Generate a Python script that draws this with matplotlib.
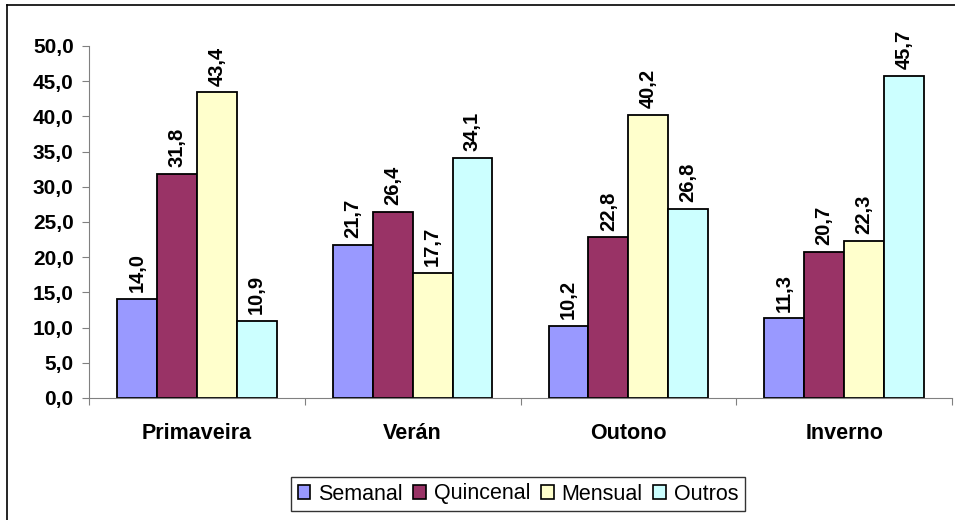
import matplotlib.pyplot as plt
from matplotlib.lines import Line2D
from matplotlib.patches import Patch
import numpy as np

plt.rcParams['font.family'] = ['Liberation Sans', 'DejaVu Sans']

categories = ["Primaveira", "Verán", "Outono", "Inverno"]
series = ["Semanal", "Quincenal", "Mensual", "Outros"]
semanal = [14.0, 21.7, 10.2, 11.3]
quincenal = [31.8, 26.4, 22.8, 20.7]
mensual = [43.4, 17.7, 40.2, 22.3]
outros = [10.9, 34.1, 26.8, 45.7]
colors = ["#9999FF", "#993366", "#FFFFCC", "#CCFFFF"]

values = [semanal, quincenal, mensual, outros]

fig = plt.figure(figsize=(9.55, 5.2), dpi=100)
ax = fig.add_axes([89 / 955, 1 - 398 / 520, 863 / 955, (398 - 46) / 520])

x = np.arange(len(categories))
w = 0.185
for j, (name, vals, c) in enumerate(zip(series, values, colors)):
    pos = x + (j - 1.5) * w
    ax.bar(pos, vals, width=w, color=c, edgecolor="black", linewidth=1.3, label=name)
    for p, v in zip(pos, vals):
        ax.annotate(f"{v:.1f}".replace(".", ","), (p, v), xytext=(0, 5),
                    textcoords="offset points", rotation=90, ha="center",
                    va="bottom", fontsize=14.5, fontweight="bold")

ax.set_xlim(-0.5, 3.5)
ax.set_ylim(0, 50)
ticks = np.arange(0, 50.1, 5)
ax.set_yticks(ticks)
ax.set_yticklabels([f"{t:.1f}".replace(".", ",") for t in ticks],
                   fontsize=15, fontweight="bold")
ax.set_xticks(np.arange(-0.5, 3.6, 1))
ax.set_xticklabels([])
ax.set_xticks(x, minor=True)
ax.set_xticklabels(categories, minor=True, fontsize=15.5, fontweight="bold")
ax.tick_params(axis="x", which="minor", length=0, pad=18)
ax.tick_params(axis="x", which="major", length=5, color="#808080")
ax.tick_params(axis="y", length=5, color="#808080", pad=6)
for s in ["top", "right"]:
    ax.spines[s].set_visible(False)
for s in ["left", "bottom"]:
    ax.spines[s].set_color("#808080")

handles = [Patch(facecolor=c, edgecolor="black", linewidth=1.2) for c in colors]
fig.legend(handles, series, loc="center", bbox_to_anchor=(518 / 955, 1 - 494 / 520),
           ncol=4, fontsize=15.5, frameon=True, fancybox=False, edgecolor="black",
           handlelength=0.6, handleheight=0.6, handletextpad=0.35,
           columnspacing=0.5, borderpad=0.3, borderaxespad=0)

# outer chart border (top and left visible)
fig.add_artist(Line2D([7 / 955, 1], [1 - 5 / 520, 1 - 5 / 520], color="black", linewidth=1.2))
fig.add_artist(Line2D([7 / 955, 7 / 955], [0, 1 - 5 / 520], color="black", linewidth=1.2))

fig.savefig("out.png", dpi=100)
